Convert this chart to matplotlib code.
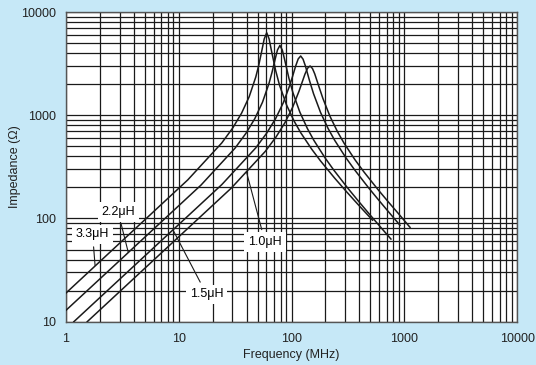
import matplotlib
matplotlib.use("Agg")
import matplotlib.pyplot as plt
from matplotlib.ticker import LogLocator, FixedLocator, NullFormatter

plt.rcParams["font.family"] = ["Liberation Sans", "DejaVu Sans"]

# ---- data ----
f_33 = [1.0, 12.06, 24.12, 30.15, 36.18, 42.21, 48.24, 51.26, 54.27, 57.29, 60.3,
        63.3, 66.3, 72.4, 78.4, 90.5, 105.5, 120.6, 150.8, 180.9, 241.2, 301.5, 361.8, 422.0, 522.0]
z_33 = [18.85, 236.6, 539.3, 752.3, 1050.7, 1514.3, 2344.5, 3047, 4093, 5475, 6300,
        5501, 4265, 2706, 1949, 1254, 876.6, 678, 470, 360.6, 245.9, 185.9, 148.9, 123.8, 96.3]

f_22 = [1.0, 15.8, 31.6, 39.5, 47.4, 55.3, 63.2, 67.15, 71.1, 75.05, 79.0,
        82.95, 86.9, 94.8, 102.7, 118.5, 138.25, 158.0, 197.5, 237.0, 316.0, 395.0, 474.0, 553.0, 632.0, 760.0]
z_22 = [12.82, 210.75, 479.7, 668.3, 930.9, 1334, 2033.7, 2597, 3375, 4280, 4750,
        4271, 3462, 2289, 1667, 1072.5, 743.6, 569.8, 388.6, 294.0, 196.0, 145.6, 114.9, 94.35, 79.7, 63.2]

f_15 = [1.18, 24.12, 48.24, 60.3, 72.36, 84.42, 96.48, 102.5, 108.5, 114.6, 120.6,
        126.6, 132.7, 144.7, 156.8, 180.9, 211.0, 241.2, 301.5, 361.8, 482.4, 603.0, 723.6, 914.0]
z_15 = [10.0, 212.76, 483.0, 670.9, 929.1, 1315, 1944, 2404, 2965, 3510, 3750,
        3491, 3006, 2146, 1614, 1062.8, 743.7, 572.0, 391.2, 296.4, 197.8, 147.0, 116.0, 86.0]

f_10 = [1.55, 29.2, 58.4, 73.0, 87.6, 102.2, 116.8, 124.1, 131.4, 138.7, 146.0,
        153.3, 160.6, 175.2, 189.8, 219.0, 255.5, 292.0, 365.0, 438.0, 584.0, 730.0, 876.0, 1122.0]
z_10 = [10.0, 196.4, 444.9, 616.4, 849.5, 1190.4, 1720.2, 2082.8, 2491.9, 2852.4, 3000,
        2837.8, 2517, 1884.7, 1452.7, 978.0, 692.5, 536.6, 370.4, 282.5, 190.3, 142.3, 113.0, 82.0]

x_ticks = [1, 10, 100, 1000, 10000]
x_tick_labels = ["1", "10", "100", "1000", "10000"]
y_ticks = [10, 100, 1000, 10000]
y_tick_labels = ["10", "100", "1000", "10000"]

series_labels = ["3.3\u03bcH", "2.2\u03bcH", "1.5\u03bcH", "1.0\u03bcH"]
# label text position and leader target (data coordinates)
label_text_pos = [(1.73, 70.2), (2.91, 116.0), (17.7, 18.4), (58.3, 59.1)]
label_target = [(1.82, 35.0), (3.58, 47.0), (9.0, 76.0), (40.0, 280.0)]

# ---- figure ----
BG = "#C6E8F7"
fig = plt.figure(figsize=(5.36, 3.65), dpi=100, facecolor=BG)
ax = fig.add_axes([0.1226, 0.1186, 0.8425, 0.8485])
ax.set_facecolor("white")
ax.set_xscale("log")
ax.set_yscale("log")
ax.set_xlim(1, 10000)
ax.set_ylim(10, 10000)

ax.xaxis.set_major_locator(FixedLocator(x_ticks))
ax.yaxis.set_major_locator(FixedLocator(y_ticks))
ax.set_xticklabels(x_tick_labels)
ax.set_yticklabels(y_tick_labels)
ax.xaxis.set_minor_locator(LogLocator(base=10, subs=range(2, 10), numticks=20))
ax.yaxis.set_minor_locator(LogLocator(base=10, subs=range(2, 10), numticks=20))
ax.xaxis.set_minor_formatter(NullFormatter())
ax.yaxis.set_minor_formatter(NullFormatter())
ax.tick_params(axis="x", which="both", length=0, labelsize=9, pad=8, colors="#222222")
ax.tick_params(axis="y", which="both", length=0, labelsize=9, pad=7, colors="#222222")

ax.grid(True, which="both", color="#1a1a1a", linewidth=0.9)
ax.set_axisbelow(True)
for sp in ax.spines.values():
    sp.set_color("#555555")
    sp.set_linewidth(1.0)

for f, z in [(f_33, z_33), (f_22, z_22), (f_15, z_15), (f_10, z_10)]:
    ax.plot(f, z, color="#1a1a1a", linewidth=1.1, zorder=3)

ax.set_xlabel("Frequency (MHz)", fontsize=9, color="#222222", labelpad=3)
ax.set_ylabel("Impedance (\u03a9)", fontsize=9, color="#222222", labelpad=0)

# ---- labels with leader lines ----
box = dict(boxstyle="square,pad=0.3", facecolor="white", edgecolor="none")
for txt, xy_text, xy_pt in zip(series_labels, label_text_pos, label_target):
    ax.annotate(txt, xy=xy_pt, xytext=xy_text, fontsize=9, ha="center", va="center",
                bbox=box, zorder=5,
                arrowprops=dict(arrowstyle="-", color="#1a1a1a", linewidth=0.8,
                                shrinkA=2, shrinkB=0))

fig.savefig("out.png", dpi=100, facecolor=BG)
